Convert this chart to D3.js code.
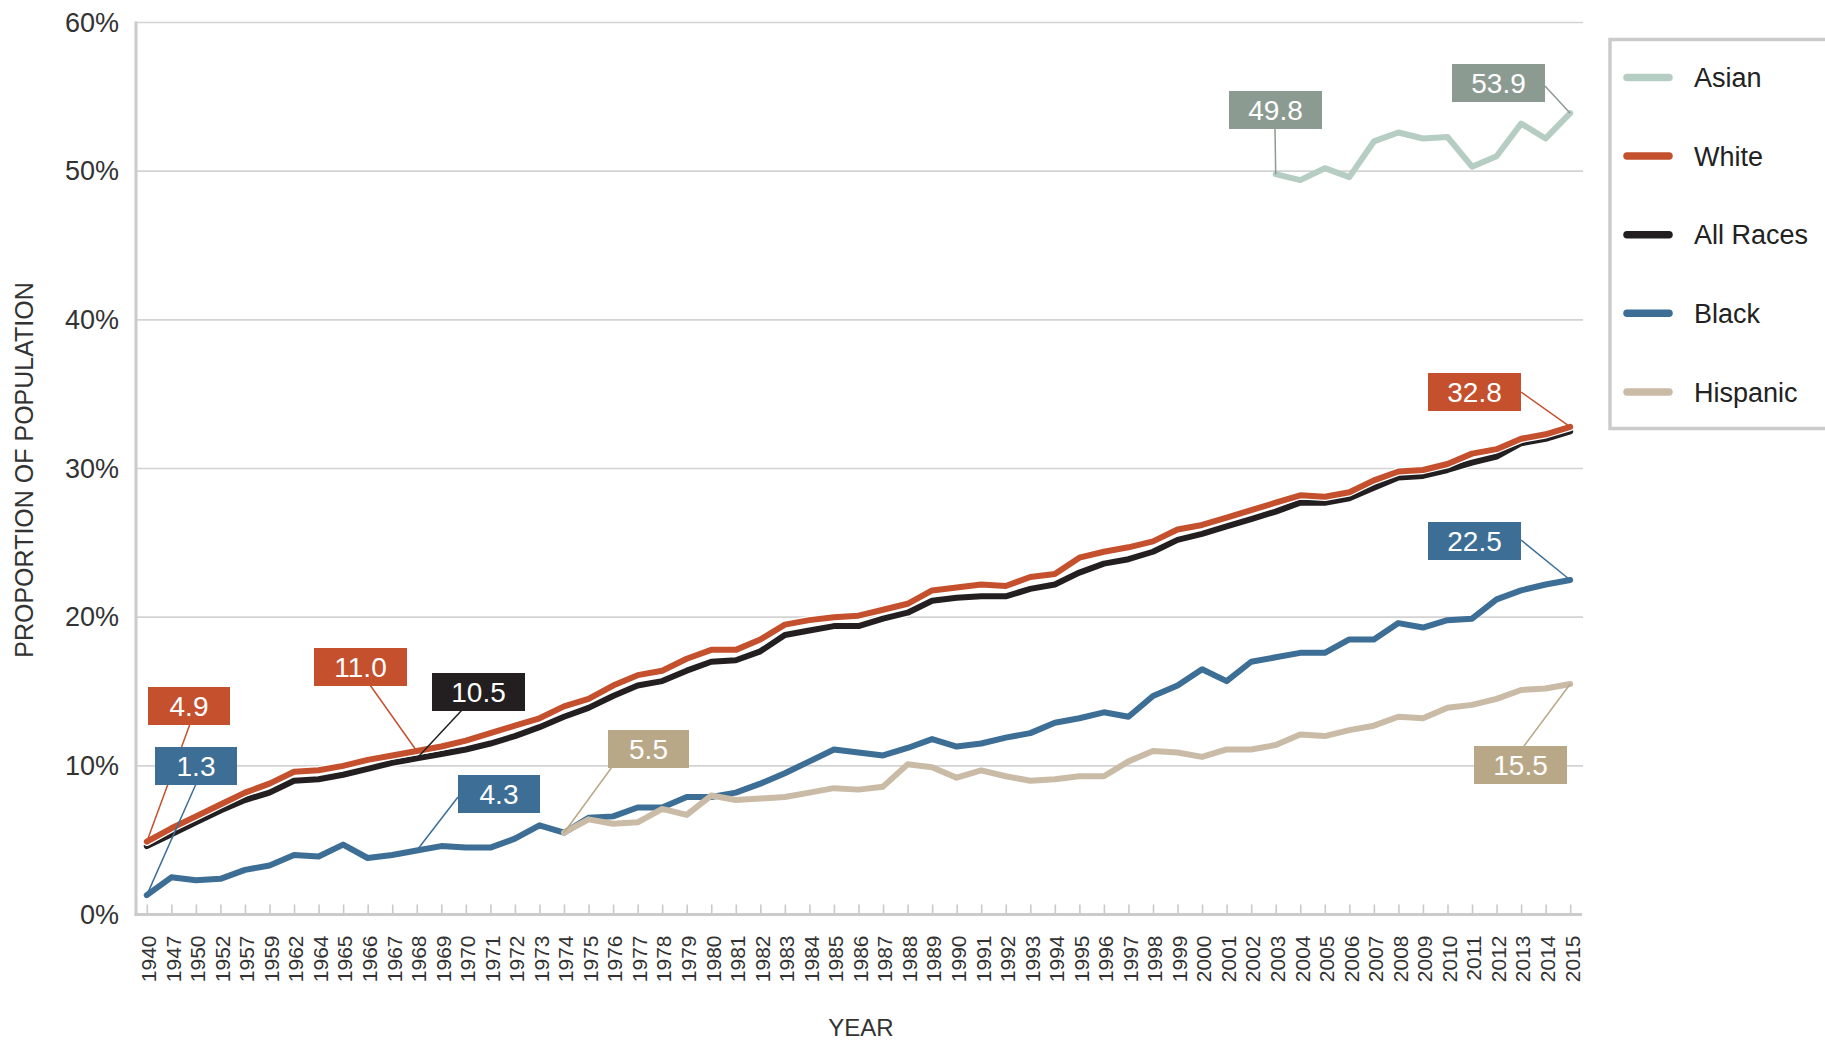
<!DOCTYPE html>
<html>
<head>
<meta charset="utf-8">
<script src="https://cdn.jsdelivr.net/npm/d3@7"></script>
<style>
body { margin: 0; background: #fff; }
svg { display: block; font-family: "Liberation Sans", Arial, Helvetica, sans-serif; }
</style>
</head>
<body>
<script>
// categories
var years = [1940, 1947, 1950, 1952, 1957, 1959, 1962, 1964, 1965, 1966, 1967, 1968, 1969,
    1970, 1971, 1972, 1973, 1974, 1975, 1976, 1977, 1978, 1979, 1980, 1981, 1982, 1983,
    1984, 1985, 1986, 1987, 1988, 1989, 1990, 1991, 1992, 1993, 1994, 1995, 1996, 1997,
    1998, 1999, 2000, 2001, 2002, 2003, 2004, 2005, 2006, 2007, 2008, 2009, 2010, 2011,
    2012, 2013, 2014, 2015];

// percent of population (null = no data)
var white = [4.9, 5.8, 6.6, 7.4, 8.2, 8.8, 9.6, 9.7, 10.0, 10.4, 10.7, 11.0, 11.3, 11.7, 12.2,
    12.7, 13.2, 14.0, 14.5, 15.4, 16.1, 16.4, 17.2, 17.8, 17.8, 18.5, 19.5, 19.8, 20.0, 20.1,
    20.5, 20.9, 21.8, 22.0, 22.2, 22.1, 22.7, 22.9, 24.0, 24.4, 24.7, 25.1, 25.9, 26.2, 26.7,
    27.2, 27.7, 28.2, 28.1, 28.4, 29.2, 29.8, 29.9, 30.3, 31.0, 31.3, 32.0, 32.3, 32.8];

var allRaces = [4.6, 5.4, 6.2, 7.0, 7.7, 8.2, 9.0, 9.1, 9.4, 9.8, 10.2, 10.5, 10.8, 11.1, 11.5,
    12.0, 12.6, 13.3, 13.9, 14.7, 15.4, 15.7, 16.4, 17.0, 17.1, 17.7, 18.8, 19.1, 19.4, 19.4,
    19.9, 20.3, 21.1, 21.3, 21.4, 21.4, 21.9, 22.2, 23.0, 23.6, 23.9, 24.4, 25.2, 25.6, 26.1,
    26.6, 27.1, 27.7, 27.7, 28.0, 28.7, 29.4, 29.5, 29.9, 30.4, 30.8, 31.7, 32.0, 32.5];

var black = [1.3, 2.5, 2.3, 2.4, 3.0, 3.3, 4.0, 3.9, 4.7, 3.8, 4.0, 4.3, 4.6, 4.5, 4.5,
    5.1, 6.0, 5.5, 6.5, 6.6, 7.2, 7.2, 7.9, 7.9, 8.2, 8.8, 9.5, 10.3, 11.1, 10.9,
    10.7, 11.2, 11.8, 11.3, 11.5, 11.9, 12.2, 12.9, 13.2, 13.6, 13.3, 14.7, 15.4, 16.5, 15.7,
    17.0, 17.3, 17.6, 17.6, 18.5, 18.5, 19.6, 19.3, 19.8, 19.9, 21.2, 21.8, 22.2, 22.5];

var hispanic = [null, null, null, null, null, null, null, null, null, null, null, null, null,
    null, null, null, null, 5.5, 6.4, 6.1, 6.2, 7.1, 6.7, 8.0, 7.7, 7.8, 7.9, 8.2, 8.5, 8.4,
    8.6, 10.1, 9.9, 9.2, 9.7, 9.3, 9.0, 9.1, 9.3, 9.3, 10.3, 11.0, 10.9, 10.6, 11.1,
    11.1, 11.4, 12.1, 12.0, 12.4, 12.7, 13.3, 13.2, 13.9, 14.1, 14.5, 15.1, 15.2, 15.5];

var asian = [null, null, null, null, null, null, null, null, null, null, null, null, null,
    null, null, null, null, null, null, null, null, null, null, null, null, null, null, null,
    null, null, null, null, null, null, null, null, null, null, null, null, null, null, null,
    null, null, null, 49.8, 49.4, 50.2, 49.6, 52.0, 52.6, 52.2, 52.3, 50.3, 51.0, 53.2, 52.2, 53.9];

var yTicks = [0, 10, 20, 30, 40, 50, 60];
var legendNames = ["Asian", "White", "All Races", "Black", "Hispanic"];

var series = [
    {name: "Black", values: black, color: "#3d6e96", box: "#3d6e96"},
    {name: "Hispanic", values: hispanic, color: "#c9bba6", box: "#b9a887"},
    {name: "All Races", values: allRaces, color: "#231f20", box: "#231f20", halo: true},
    {name: "White", values: white, color: "#c4502d", box: "#c4502d", halo: true},
    {name: "Asian", values: asian, color: "#b5cdc3", box: "#8b9b91"}
];
var byName = {};
series.forEach(function (s) { byName[s.name] = s; });

// callout boxes: which point they point to, and where the box sits
var callouts = [
    {s: "White", i: 0, bx: 148, by: 687, w: 82, ax: 190, ay: 724},
    {s: "Black", i: 0, bx: 155, by: 747, w: 82, ax: 196, ay: 784},
    {s: "White", i: 11, bx: 314, by: 648, w: 93, ax: 370, ay: 685},
    {s: "All Races", i: 11, bx: 432, by: 673, w: 93, ax: 462, ay: 710},
    {s: "Black", i: 11, bx: 458, by: 775, w: 82, ax: 458, ay: 797},
    {s: "Hispanic", i: 17, bx: 608, by: 730, w: 81, ax: 612, ay: 767},
    {s: "Asian", i: 46, bx: 1229, by: 91, w: 93, ax: 1275, ay: 128},
    {s: "Asian", i: 58, bx: 1452, by: 64, w: 93, ax: 1545, ay: 86},
    {s: "White", i: 58, bx: 1428, by: 373, w: 93, ax: 1521, ay: 392},
    {s: "Black", i: 58, bx: 1428, by: 522, w: 93, ax: 1521, ay: 540},
    {s: "Hispanic", i: 58, bx: 1474, by: 746, w: 93, ax: 1524, ay: 746}
];

var W = 1825, H = 1040,
    plotL = 136, plotR = 1583, plotT = 22.5, plotB = 914.5;

var svg = d3.select("body").append("svg")
    .attr("width", W)
    .attr("height", H);

var x = d3.scalePoint()
    .domain(years)
    .range([plotL, plotR - 2])
    .padding(0.44);

var y = d3.scaleLinear()
    .domain([0, 60])
    .range([plotB, plotT]);

// gridlines
svg.append("g")
    .attr("class", "grid")
    .selectAll("line")
    .data(yTicks.slice(1))
    .enter().append("line")
    .attr("x1", plotL).attr("x2", plotR)
    .attr("y1", function (d) { return y(d); })
    .attr("y2", function (d) { return y(d); })
    .attr("stroke", "#d3d3d3")
    .attr("stroke-width", 1.6);

// y axis labels
var yAxis = d3.axisLeft(y)
    .tickValues(yTicks)
    .tickSize(0)
    .tickPadding(17)
    .tickFormat(function (d) { return d + "%"; });

svg.append("g")
    .attr("transform", "translate(" + plotL + ",0)")
    .call(yAxis)
    .call(function (g) { g.select(".domain").remove(); })
    .selectAll("text")
    .attr("font-size", 27)
    .attr("fill", "#333")
    .attr("font-family", "Liberation Sans, Arial, sans-serif");

// x axis with inward ticks and rotated year labels
var xAxis = d3.axisBottom(x)
    .tickSize(-10)
    .tickSizeOuter(0);

var gx = svg.append("g")
    .attr("transform", "translate(0," + plotB + ")")
    .call(xAxis);

gx.select(".domain").remove();
gx.selectAll(".tick line")
    .attr("stroke", "#c9c9c9")
    .attr("stroke-width", 1.6);
gx.selectAll(".tick text")
    .attr("font-size", 21)
    .attr("font-family", "Liberation Sans, Arial, sans-serif")
    .attr("fill", "#333")
    .attr("transform", "rotate(-90)")
    .attr("x", -21)
    .attr("y", 0)
    .attr("dy", "0.42em")
    .style("text-anchor", "end");

// axis lines
svg.append("line")
    .attr("x1", plotL).attr("x2", plotL)
    .attr("y1", plotT - 1).attr("y2", plotB + 1.5)
    .attr("stroke", "#cbcbcb").attr("stroke-width", 3);
svg.append("line")
    .attr("x1", plotL - 1.5).attr("x2", plotR - 1)
    .attr("y1", plotB).attr("y2", plotB)
    .attr("stroke", "#cbcbcb").attr("stroke-width", 3);

// axis titles
svg.append("text")
    .attr("transform", "translate(33," + 470 + ")rotate(-90)")
    .attr("text-anchor", "middle")
    .attr("font-size", 25)
    .attr("fill", "#333")
    .text("PROPORTION OF POPULATION");

svg.append("text")
    .attr("x", 861)
    .attr("y", 1036)
    .attr("text-anchor", "middle")
    .attr("font-size", 24)
    .attr("fill", "#333")
    .text("YEAR");

// lines
var line = d3.line()
    .defined(function (d) { return d != null; })
    .x(function (d, i) { return x(years[i]); })
    .y(function (d) { return y(d); });

var lines = svg.append("g").attr("fill", "none")
    .attr("stroke-linejoin", "round")
    .attr("stroke-linecap", "round");

series.forEach(function (s) {
    if (s.halo) {
        lines.append("path")
            .attr("d", line(s.values))
            .attr("stroke", "#fff")
            .attr("stroke-width", 8.5);
    }
    lines.append("path")
        .attr("d", line(s.values))
        .attr("stroke", s.color)
        .attr("stroke-width", 6);
});

// callouts
var co = svg.append("g").selectAll("g")
    .data(callouts)
    .enter().append("g");

co.append("line")
    .attr("x1", function (d) { return d.ax; })
    .attr("y1", function (d) { return d.ay; })
    .attr("x2", function (d) { return x(years[d.i]); })
    .attr("y2", function (d) { return y(byName[d.s].values[d.i]); })
    .attr("stroke", function (d) { return byName[d.s].box; })
    .attr("stroke-width", 1.5);

co.append("rect")
    .attr("x", function (d) { return d.bx; })
    .attr("y", function (d) { return d.by; })
    .attr("width", function (d) { return d.w; })
    .attr("height", 38)
    .attr("fill", function (d) { return byName[d.s].box; });

co.append("text")
    .attr("x", function (d) { return d.bx + d.w / 2; })
    .attr("y", function (d) { return d.by + 19; })
    .attr("dy", "0.36em")
    .attr("text-anchor", "middle")
    .attr("font-size", 28)
    .attr("fill", "#fff")
    .text(function (d) { return byName[d.s].values[d.i].toFixed(1); });

// legend
var legend = svg.append("g");
legend.append("rect")
    .attr("x", 1610).attr("y", 39.5)
    .attr("width", 240).attr("height", 389)
    .attr("fill", "#fff")
    .attr("stroke", "#cbcbcb")
    .attr("stroke-width", 3.5);

var li = legend.selectAll(".item")
    .data(legendNames)
    .enter().append("g")
    .attr("class", "item")
    .attr("transform", function (d, i) { return "translate(0," + (77.5 + i * 78.6) + ")"; });

li.append("line")
    .attr("x1", 1627).attr("x2", 1669)
    .attr("stroke", function (d) { return byName[d].color; })
    .attr("stroke-width", 7.5)
    .attr("stroke-linecap", "round");

li.append("text")
    .attr("x", 1694)
    .attr("dy", "0.36em")
    .attr("font-size", 27)
    .attr("fill", "#222")
    .text(function (d) { return d; });
</script>
</body>
</html>
